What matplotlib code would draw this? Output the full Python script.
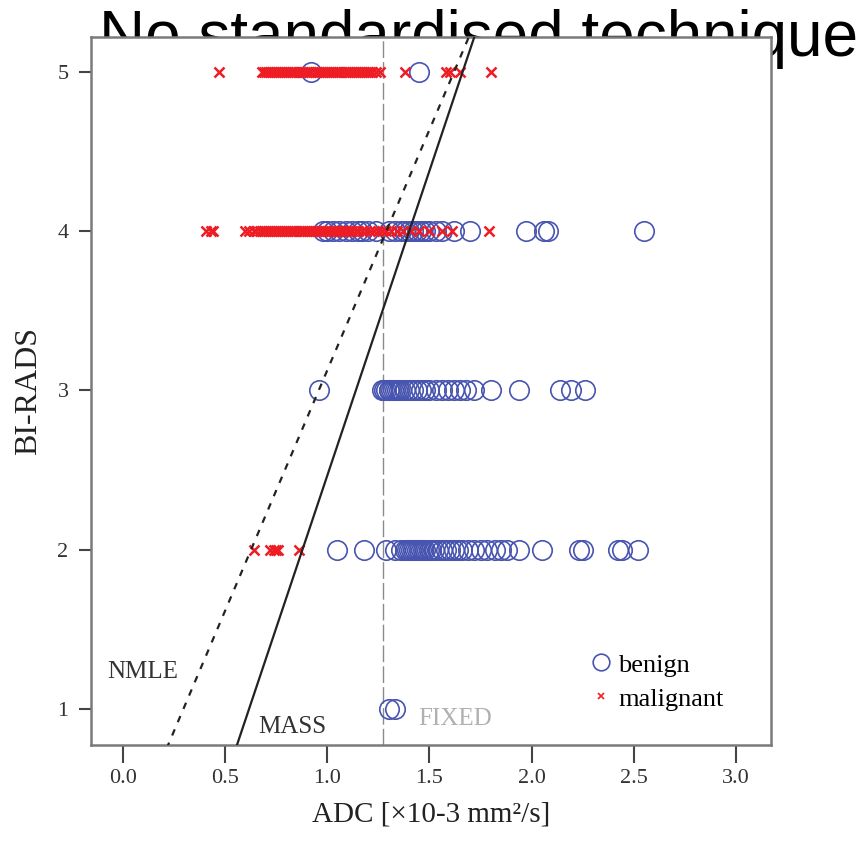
#!/usr/bin/env python3
"""BI-RADS category vs ADC value, with MASS / NMLE / FIXED thresholds."""

import matplotlib
matplotlib.use("Agg")
import matplotlib.pyplot as plt

# ---------------------------------------------------------------------------
# Data
# ---------------------------------------------------------------------------

# benign lesions: ADC value per BI-RADS category
benign_adc_2 = [1.05, 1.18, 1.29, 1.33, 1.36, 1.38, 1.39, 1.40, 1.41, 1.42,
                1.43, 1.44, 1.45, 1.46, 1.47, 1.48, 1.50, 1.51, 1.52, 1.54,
                1.56, 1.58, 1.60, 1.62, 1.64, 1.66, 1.69, 1.72, 1.75, 1.78,
                1.82, 1.85, 1.88, 1.94, 2.05, 2.23, 2.25, 2.42, 2.44, 2.52]
benign_adc_3 = [0.96, 1.27, 1.28, 1.29, 1.30, 1.30, 1.31, 1.32, 1.33, 1.34,
                1.35, 1.36, 1.38, 1.40, 1.42, 1.44, 1.46, 1.48, 1.50, 1.53,
                1.56, 1.59, 1.62, 1.65, 1.68, 1.72, 1.80, 1.94, 2.14, 2.19,
                2.26]
benign_adc_4 = [0.98, 1.00, 1.03, 1.06, 1.09, 1.12, 1.15, 1.17, 1.20, 1.24,
                1.30, 1.33, 1.36, 1.38, 1.40, 1.42, 1.44, 1.46, 1.48, 1.50,
                1.53, 1.56, 1.62, 1.70, 1.97, 2.06, 2.08, 2.55]
benign_adc_5 = [0.92, 1.45]
benign_adc_1 = [1.30, 1.33]

# malignant lesions
malig_adc_2 = [0.64, 0.72, 0.74, 0.75, 0.76, 0.86]
malig_adc_4 = [0.41, 0.43, 0.44, 0.60, 0.62, 0.64, 0.65, 0.67, 0.68, 0.69,
               0.70, 0.71, 0.72, 0.73, 0.74, 0.75, 0.76, 0.77, 0.78, 0.79,
               0.80, 0.81, 0.82, 0.83, 0.84, 0.85, 0.86, 0.87, 0.88, 0.89,
               0.90, 0.91, 0.92, 0.93, 0.94, 0.95, 0.96, 0.97, 0.98, 0.99,
               1.00, 1.01, 1.02, 1.03, 1.04, 1.05, 1.06, 1.07, 1.08, 1.09,
               1.10, 1.11, 1.12, 1.14, 1.15, 1.17, 1.19, 1.21, 1.23, 1.25,
               1.27, 1.29, 1.31, 1.34, 1.37, 1.41, 1.45, 1.50, 1.56, 1.61,
               1.79]
malig_adc_5 = [0.47, 0.68, 0.69, 0.70, 0.71, 0.72, 0.73, 0.74, 0.75, 0.76,
               0.77, 0.78, 0.79, 0.80, 0.81, 0.82, 0.83, 0.84, 0.85, 0.86,
               0.87, 0.88, 0.89, 0.90, 0.91, 0.92, 0.94, 0.95, 0.96, 0.97,
               0.98, 0.99, 1.00, 1.01, 1.02, 1.03, 1.04, 1.05, 1.06, 1.07,
               1.08, 1.09, 1.10, 1.11, 1.12, 1.13, 1.14, 1.15, 1.16, 1.17,
               1.18, 1.19, 1.20, 1.21, 1.22, 1.24, 1.26, 1.38, 1.58, 1.60,
               1.65, 1.80]

# threshold lines: ADC value at BI-RADS 1 and 5
mass_line_y = [1, 5]
mass_line_x = [0.618, 1.662]
nmle_line_y = [1, 5]
nmle_line_x = [0.297, 1.620]
fixed_adc = 1.275

categories = [1, 2, 3, 4, 5]
x_ticks = [0.0, 0.5, 1.0, 1.5, 2.0, 2.5, 3.0]

OUT = "out.png"

# ---------------------------------------------------------------------------
# Plot
# ---------------------------------------------------------------------------

SERIF = ["Liberation Serif", "DejaVu Serif"]
BLUE = "#4855b0"
RED = "#ee1c24"

fig = plt.figure(figsize=(8.59, 8.47), dpi=100)
ax = fig.add_axes([0.1056, 0.1204, 0.792, 0.836])

# slide-style title that sits partly behind the plot (clipped as in the source)
fig.text(0.1155, 0.934, "No standardised technique", family="Liberation Sans",
         fontsize=46, color="black", ha="left", va="baseline", zorder=-1)

benign = {2: benign_adc_2, 3: benign_adc_3, 4: benign_adc_4,
          5: benign_adc_5, 1: benign_adc_1}
malig = {2: malig_adc_2, 4: malig_adc_4, 5: malig_adc_5}

for cat, vals in benign.items():
    ax.plot(vals, [cat] * len(vals), linestyle="none", marker="o",
            markersize=14, markerfacecolor="none", markeredgecolor=BLUE,
            markeredgewidth=1.2, zorder=2)
for cat, vals in malig.items():
    ax.plot(vals, [cat] * len(vals), linestyle="none", marker="x",
            markersize=7, color=RED, markeredgewidth=1.8, zorder=3)

# threshold lines (extended past the axes, then clipped)
def extend(xs, ys, y0=0.5, y1=5.5):
    slope = (xs[1] - xs[0]) / (ys[1] - ys[0])
    return [xs[0] + slope * (y0 - ys[0]), xs[0] + slope * (y1 - ys[0])], [y0, y1]

mx, my = extend(mass_line_x, mass_line_y)
nx, ny = extend(nmle_line_x, nmle_line_y)
ax.plot(mx, my, color="#222222", lw=1.6, zorder=4)
ax.plot(nx, ny, color="#222222", lw=1.6, linestyle=(0, (3, 3.5)), zorder=4)
ax.axvline(fixed_adc, color="#8a8a8a", lw=1.0, linestyle=(0, (12, 3)), zorder=1)

ax.text(0.10, 1.23, "NMLE", family=SERIF, fontsize=18, ha="center", va="center",
        color="#333333")
ax.text(0.83, 0.89, "MASS", family=SERIF, fontsize=18, ha="center", va="center",
        color="#333333")
ax.text(1.625, 0.94, "FIXED", family=SERIF, fontsize=18, ha="center", va="center",
        color="#b0b0b0")

h1, = ax.plot([], [], linestyle="none", marker="o", markersize=12,
              markerfacecolor="none", markeredgecolor=BLUE, markeredgewidth=1.2)
h2, = ax.plot([], [], linestyle="none", marker="x", markersize=5, color=RED,
              markeredgewidth=1.2)
leg = ax.legend([h1, h2], ["benign", "malignant"], loc="lower right",
                bbox_to_anchor=(0.965, 0.015), frameon=False, handlelength=0.6,
                handletextpad=0.35, labelspacing=0.4,
                prop={"family": SERIF, "size": 19})

ax.set_xlim(-0.156, 3.17)
ax.set_ylim(0.774, 5.22)
ax.set_xticks(x_ticks)
ax.set_xticklabels([f"{t:.1f}" for t in x_ticks])
ax.set_yticks(categories)
ax.set_yticklabels([str(c) for c in categories])

for lab in ax.get_xticklabels() + ax.get_yticklabels():
    lab.set_family(SERIF)
    lab.set_fontsize(16)
    lab.set_color("#333333")

ax.tick_params(axis="x", direction="out", length=13, width=1.5,
               color="#444444", pad=4)
ax.tick_params(axis="y", direction="out", length=9, width=1.5,
               color="#444444", pad=7)
for sp in ax.spines.values():
    sp.set_color("#7a7a7a")
    sp.set_linewidth(1.8)

ax.set_xlabel("ADC [×10-3 mm²/s]", family=SERIF, fontsize=21, labelpad=10,
              color="#222222")
ax.set_ylabel("BI-RADS", family=SERIF, fontsize=23, labelpad=10,
              color="#222222")

fig.savefig(OUT, dpi=100)
